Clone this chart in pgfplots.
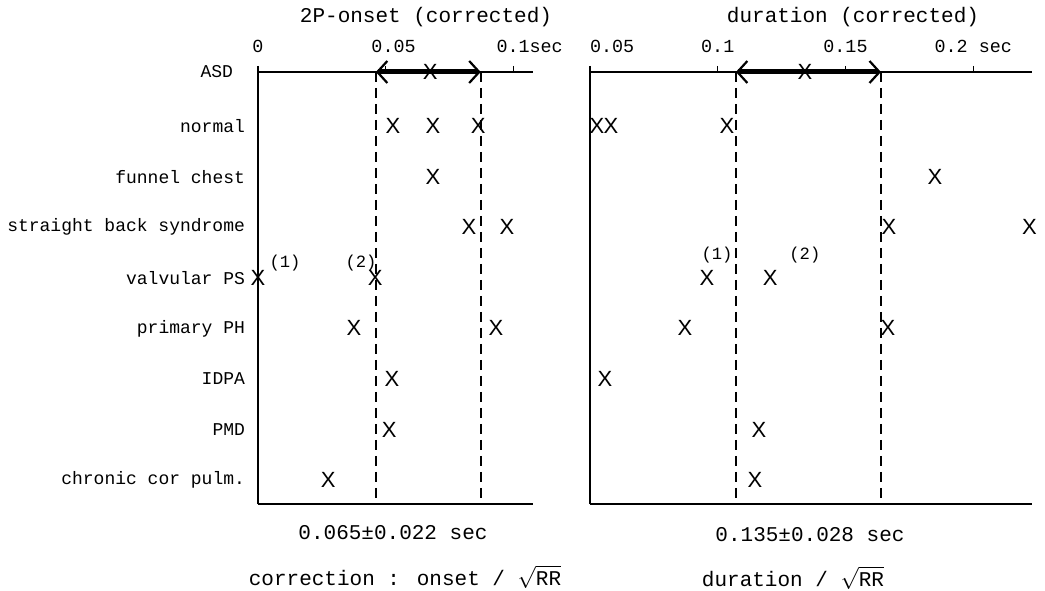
\documentclass[border=0pt]{standalone}
\usepackage{fontspec}
\setmainfont{Liberation Mono}
\setmonofont{Liberation Mono}
\newfontfamily\xfont{Liberation Sans}
\usepackage{pgfplots}
\usepackage{pgfplotstable}
\pgfplotsset{compat=1.18}
\usetikzlibrary{arrows.meta}

\pgfplotstableread{
x y
0.0529 1
0.0686 1
0.0863 1
0.0686 2
0.0827 3
0.0976 3
0.0000 4
0.0459 4
0.0376 5
0.0933 5
0.0525 6
0.0514 7
0.0275 8
}\onsetdata

\pgfplotstableread{
x y
0.0527 1
0.0582 1
0.1036 1
0.1850 2
0.1670 3
0.2220 3
0.0958 4
0.1205 4
0.0872 5
0.1666 5
0.0559 6
0.1161 7
0.1146 8
}\durdata

\pgfplotsset{
  panel/.style={
    anchor=south west, scale only axis, height=216pt,
    ymin=-0.067, ymax=8.47, y dir=reverse,
    axis line style={draw=none},
    xtick pos=upper, xticklabel pos=upper,
    tick align=outside, major tick length=3pt,
    xtick style={draw=black, line width=0.6pt},
    ytick style={draw=none},
    xticklabel style={font=\fontsize{9.2}{10}\selectfont, yshift=3pt},
    yticklabel style={font=\fontsize{9}{10}\selectfont},
    clip=false,
  },
  xmk/.style={only marks, mark=text, text mark={X}, text mark as node=true,
    text mark style={font=\fontsize{11}{12}\selectfont\xfont, inner sep=0pt}},
  dsh/.style={black, line width=0.8pt, dash pattern=on 5pt off 3pt},
  arr/.style={black, line width=2.5pt, {Straight Barb[length=5pt,width=11pt,line width=1.1pt]}-{Straight Barb[length=5pt,width=11pt,line width=1.1pt]}},
}

\begin{document}
\begin{tikzpicture}[x=1pt,y=1pt]
\useasboundingbox (0,0) rectangle (522.5,295);

% left panel
\begin{axis}[panel, at={(129pt,43pt)}, width=137.5pt,
  xmin=0, xmax=0.1078,
  xtick={0,0.05,0.1}, xticklabels={0,\hspace{8pt}0.05,0.1\rlap{sec}},
  ytick={-0.067,1,2,3,4,5,6,7,8},
  yticklabels={ASD\rule{6pt}{0pt},normal,funnel chest,straight back syndrome,valvular PS,primary PH,IDPA,PMD,chronic cor pulm.},
  ytick pos=left, yticklabel pos=left]
\draw[line width=1pt] (axis cs:0,8.47) -- (axis cs:0,-0.067) -- (axis cs:0.1078,-0.067);
\draw[line width=1pt] (axis cs:0,8.47) -- (axis cs:0.1078,8.47);
\addplot[dsh] coordinates {(0.0462,-0.067) (0.0462,8.47)};
\addplot[dsh] coordinates {(0.0873,-0.067) (0.0873,8.47)};
\addplot[arr] coordinates {(0.0462,-0.067) (0.0873,-0.067)};
\addplot[xmk] coordinates {(0.0675,-0.067)};
\addplot[xmk] table {\onsetdata};
\node[font=\fontsize{8.6}{9}\selectfont] at (axis cs:0.0106,3.71) {(1)};
\node[font=\fontsize{8.6}{9}\selectfont] at (axis cs:0.0404,3.71) {(2)};
\end{axis}

% right panel
\begin{axis}[panel, at={(295pt,43pt)}, width=221pt,
  xmin=0.05, xmax=0.223,
  xtick={0.05,0.1,0.15,0.2}, xticklabels={\rlap{0.05},0.1,0.15,0.2 sec},
  ytick=\empty]
\draw[line width=1pt] (axis cs:0.05,8.47) -- (axis cs:0.05,-0.067) -- (axis cs:0.223,-0.067);
\draw[line width=1pt] (axis cs:0.05,8.47) -- (axis cs:0.223,8.47);
\addplot[dsh] coordinates {(0.1071,-0.067) (0.1071,8.47)};
\addplot[dsh] coordinates {(0.1639,-0.067) (0.1639,8.47)};
\addplot[arr] coordinates {(0.1071,-0.067) (0.1639,-0.067)};
\addplot[xmk] coordinates {(0.1341,-0.067)};
\addplot[xmk] table {\durdata};
\node[font=\fontsize{8.6}{9}\selectfont] at (axis cs:0.0997,3.55) {(1)};
\node[font=\fontsize{8.6}{9}\selectfont] at (axis cs:0.1341,3.55) {(2)};
\end{axis}

% titles and captions
\node[font=\fontsize{10.5}{12}\selectfont] at (213,286.5) {2P-onset (corrected)};
\node[font=\fontsize{10.5}{12}\selectfont] at (426.5,286.5) {duration (corrected)};
\node[font=\fontsize{10.5}{12}\selectfont] at (196.5,28.5) {0.065±0.022 sec};
\node[font=\fontsize{10.5}{12}\selectfont] at (405,27.5) {0.135±0.028 sec};
\node[font=\fontsize{10.5}{12}\selectfont] at (202.5,6.5) {correction : onset / $\sqrt{\mbox{RR}}$};
\node[font=\fontsize{10.5}{12}\selectfont] at (396.5,6) {duration / $\sqrt{\mbox{RR}}$};
\end{tikzpicture}
\end{document}
